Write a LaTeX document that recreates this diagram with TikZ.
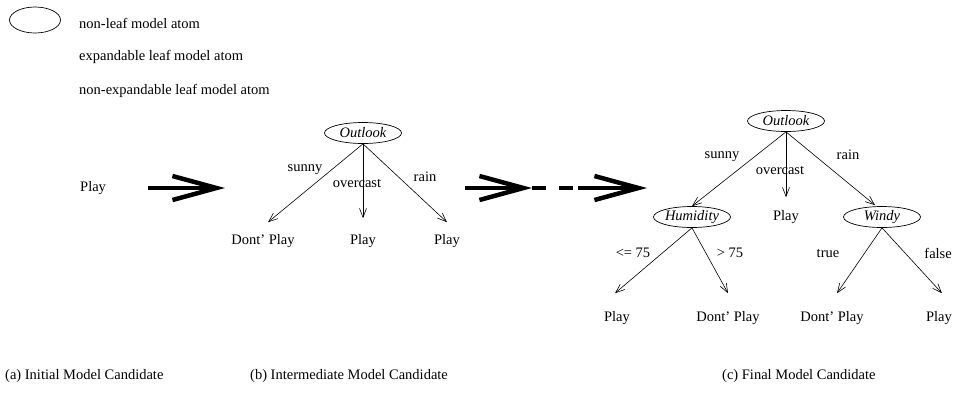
\documentclass[tikz,border=0pt]{standalone}
\usepackage{fontspec}
\setmainfont{Liberation Serif}
\usetikzlibrary{shapes.geometric,arrows.meta}
\begin{document}
\begin{tikzpicture}[x=1pt,y=-1pt,
  every node/.style={font=\fontsize{14.5}{17}\selectfont, inner sep=0pt},
  atom/.style={ellipse, draw, line width=0.7pt, minimum width=77pt, minimum height=21pt, inner sep=0pt, font=\fontsize{14.5}{17}\selectfont\itshape},
  legatom/.style={ellipse, draw, line width=0.7pt, minimum width=51pt, minimum height=26pt},
  branch/.style={line width=0.6pt, -{Straight Barb[length=9pt,width=7pt]}},
  bigarrow/.style={line width=4.5pt, -{Straight Barb[length=44pt,width=24pt]}},
  bigdash/.style={line width=4.5pt, dash pattern=on 14pt off 13pt}
]
\useasboundingbox (0,0) rectangle (953,392);

% legend
\node[legatom] (leg1) at (35,20) {};
\node[anchor=west] (legt1) at (79,23) {non-leaf model atom};
\node[anchor=west] (legt2) at (79,57) {expandable leaf model atom};
\node[anchor=west] (legt3) at (79,91) {non-expandable leaf model atom};

% (a)
\node[anchor=west] (pa) at (80,188) {Play};
\coordinate (a1s) at (148,188);
\coordinate (a1e) at (225,188);
\draw[bigarrow] (a1s) -- (a1e);

% (b)
\node[atom] (ob) at (363,133) {Outlook};
\node (b1) at (263,241) {Dont' Play};
\node (b2) at (363,241) {Play};
\node (b3) at (447,241) {Play};
\draw[branch] (ob.south) -- ([xshift=5pt,yshift=12pt]b1.north);
\draw[branch] (ob.south) -- ([yshift=16pt]b2.north);
\draw[branch] (ob.south) -- ([yshift=12pt]b3.north);
\node (lb1) at (305,170) {sunny};
\node (lb2) at (357,183) {overcast};
\node (lb3) at (425,177) {rain};

% arrow b -> c
\coordinate (a2s) at (465,188);
\coordinate (a2m) at (532,188);
\coordinate (a2n) at (578,188);
\coordinate (a2e) at (647,188);
\draw[bigarrow] (a2s) -- (a2m);
\draw[bigdash] (a2m) -- (a2n);
\draw[bigarrow] (a2n) -- (a2e);

% (c)
\node[atom] (oc) at (786,121) {Outlook};
\node[atom] (hum) at (692,217) {Humidity};
\node (cp) at (786,217) {Play};
\node[atom] (win) at (882,217) {Windy};
\draw[branch] (oc.south) -- (hum.north);
\draw[branch] (oc.south) -- ([yshift=13pt]cp.north);
\draw[branch] (oc.south) -- ([xshift=-7pt,yshift=1pt]win.north);
\node (lc1) at (722,157) {sunny};
\node (lc2) at (780,170) {overcast};
\node (lc3) at (848,155) {rain};

\node (c1) at (617,318) {Play};
\node (c2) at (728,318) {Dont' Play};
\node (c3) at (832,318) {Dont' Play};
\node[anchor=east] (c4) at (952,318) {Play};
\draw[branch] (hum.south) -- ([xshift=-2pt,yshift=18pt]c1.north);
\draw[branch] (hum.south) -- ([yshift=18pt]c2.north);
\draw[branch] (win.south) -- ([xshift=5pt,yshift=18pt]c3.north);
\draw[branch] (win.south) -- ([xshift=3pt,yshift=18pt]c4.north);
\node (lh1) at (633,253) {<= 75};
\node (lh2) at (730,253) {> 75};
\node (lw1) at (828,253) {true};
\node[anchor=east] (lw2) at (952,253) {false};

% captions
\node[anchor=west] (capa) at (5,376) {(a) Initial Model Candidate};
\node[anchor=west] (capb) at (250,376) {(b) Intermediate Model Candidate};
\node[anchor=west] (capc) at (722,376) {(c) Final Model Candidate};
\end{tikzpicture}
\end{document}
